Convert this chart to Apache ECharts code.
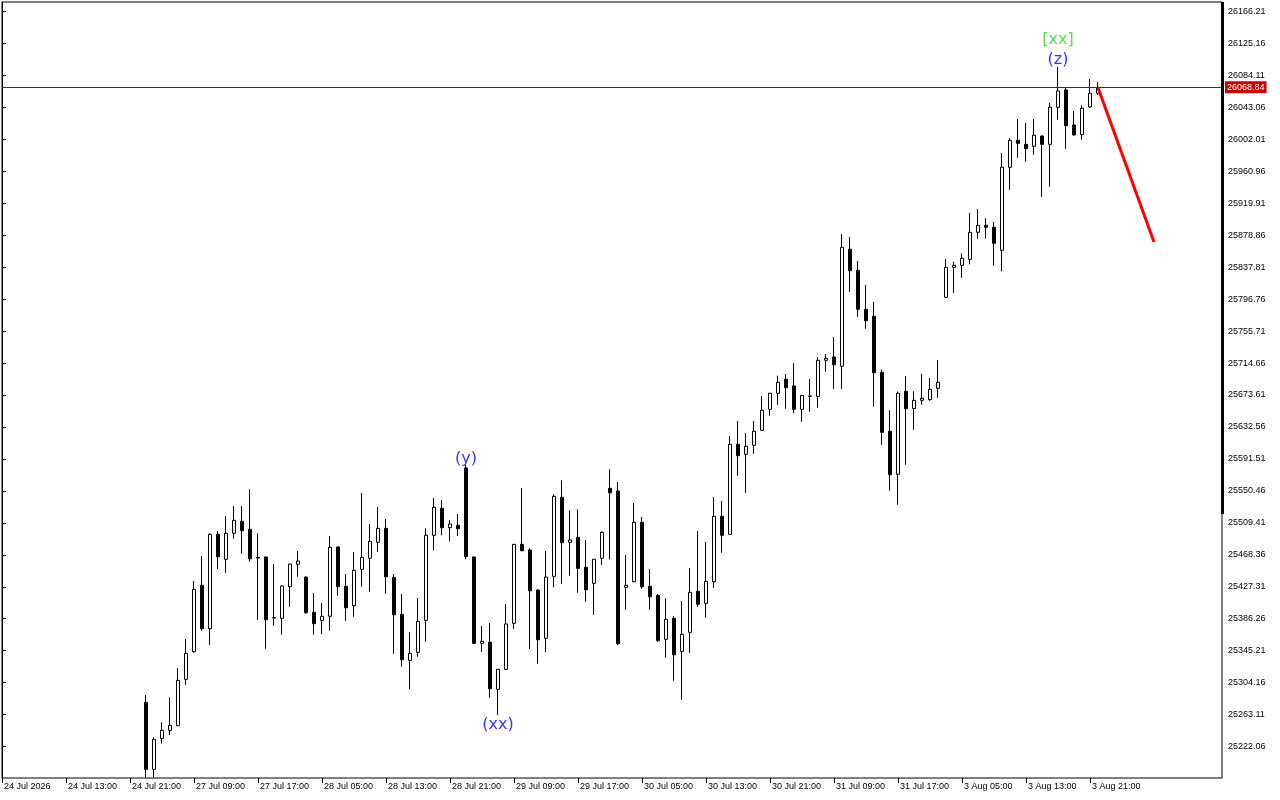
<!DOCTYPE html>
<html>
<head>
<meta charset="utf-8">
<script src="https://cdn.jsdelivr.net/npm/echarts@6/dist/echarts.min.js"></script>
<style>
html,body{margin:0;padding:0;background:#fff;}
#chart{width:1280px;height:800px;}
</style>
</head>
<body>
<div id="chart"></div>
<script>
// Hourly slots: label every 8 slots, first candle sits in slot 18
const timeLabels = ['24 Jul 2026','24 Jul 13:00','24 Jul 21:00','27 Jul 09:00','27 Jul 17:00','28 Jul 05:00','28 Jul 13:00','28 Jul 21:00','29 Jul 09:00','29 Jul 17:00','30 Jul 05:00','30 Jul 13:00','30 Jul 21:00','31 Jul 09:00','31 Jul 17:00','3 Aug 05:00','3 Aug 13:00','3 Aug 21:00'];
const firstCandleSlot = 18;

const opens = [25278.9,25192.8,25232.6,25242.9,25248.8,25308.4,25343.9,25429.2,25373.4,25494.7,
25462.6,25496.0,25511.4,25501.1,25465.1,25465.5,25387.2,25386.8,25427.4,25456.2,
25439.8,25394.5,25384.2,25389.4,25478.4,25427.9,25403.0,25449.7,25463.9,25484.4,
25502.4,25439.4,25391.9,25332.8,25343.1,25384.2,25493.4,25528.1,25503.2,25506.3,
25579.9,25465.5,25354.7,25356.0,25295.6,25321.3,25380.4,25481.8,25474.5,25423.1,
25361.1,25440.7,25542.2,25484.4,25490.8,25452.3,25431.7,25463.9,25553.8,25550.3,
25426.6,25433.8,25510.1,25427.9,25416.3,25359.8,25386.8,25344.4,25368.8,25421.5,
25406.1,25433.8,25517.8,25494.7,25610.3,25597.4,25609.0,25628.3,25655.2,25675.8,
25693.8,25685.2,25655.2,25671.9,25671.9,25718.2,25722.4,25710.5,25860.8,25833.8,
25783.7,25774.7,25702.8,25627.0,25571.8,25678.4,25656.3,25666.8,25667.6,25682.2,
25799.1,25837.6,25840.2,25847.9,25882.6,25891.6,25889.0,25859.5,25966.1,26000.8,
25995.6,25993.1,26006.3,25995.6,26043.2,26065.4,26020.4,26008.0,26043.6,26061.2];
const highs = [25288.3,25233.9,25253.2,25285.3,25322.6,25360.2,25434.7,25466.8,25496.0,25498.9,
25518.2,25531.0,25531.0,25552.5,25496.0,25466.0,25456.5,25429.0,25457.0,25473.2,
25440.5,25419.3,25406.4,25492.5,25479.0,25443.7,25472.0,25547.7,25507.9,25529.8,
25514.3,25443.7,25418.0,25368.8,25412.9,25502.4,25541.3,25538.7,25513.1,25520.8,
25583.7,25466.0,25376.9,25380.8,25321.8,25405.2,25482.3,25554.2,25476.7,25424.0,
25473.2,25546.1,25564.0,25525.5,25526.8,25487.4,25463.0,25498.5,25578.2,25561.9,
25468.1,25534.9,25516.9,25450.1,25418.0,25412.5,25389.7,25409.0,25451.4,25498.9,
25484.8,25542.6,25537.5,25621.0,25640.2,25624.8,25640.2,25672.3,25676.3,25698.4,
25700.6,25714.3,25673.7,25694.2,25722.4,25726.3,25748.1,25880.4,25876.6,25845.7,
25814.9,25793.1,25706.4,25654.0,25678.1,25698.0,25678.4,25700.9,25695.5,25718.6,
25848.3,25844.8,25855.6,25907.4,25912.5,25900.6,25895.8,25984.5,26003.4,26028.1,
26023.0,26028.1,26006.8,26049.1,26094.9,26068.3,26038.4,26045.7,26079.5,26075.7];
const lows = [25182.5,25182.5,25225.7,25236.9,25248.8,25301.5,25342.6,25370.9,25352.9,25450.1,
25445.4,25489.0,25469.8,25459.5,25385.0,25347.7,25377.3,25365.7,25401.7,25440.2,
25392.7,25365.7,25366.6,25370.9,25415.8,25383.7,25388.8,25427.4,25420.9,25472.3,
25418.4,25341.3,25324.6,25295.6,25337.5,25356.7,25474.1,25493.4,25485.7,25492.5,
25462.6,25354.0,25343.9,25284.8,25262.6,25320.8,25373.4,25473.1,25347.4,25328.5,
25343.1,25426.6,25431.2,25441.5,25419.7,25408.1,25391.4,25455.6,25462.3,25352.5,
25397.8,25433.3,25424.8,25397.8,25356.7,25336.2,25306.6,25282.2,25342.6,25401.7,
25387.6,25426.1,25471.1,25494.2,25570.0,25548.1,25598.2,25627.8,25647.0,25661.2,
25656.0,25650.1,25639.3,25652.2,25657.3,25703.5,25681.7,25681.7,25806.3,25774.2,
25758.8,25658.6,25609.8,25550.7,25532.7,25584.1,25629.0,25661.0,25666.3,25670.1,
25798.6,25805.0,25824.3,25841.5,25874.4,25874.4,25839.7,25832.5,25937.3,25978.4,
25973.3,25982.3,25928.3,25941.2,26027.2,25990.0,26007.0,26001.6,26042.3,26059.0];
const closes = [25192.8,25231.4,25242.9,25249.3,25307.1,25341.8,25424.0,25373.4,25494.7,25465.9,
25496.0,25512.7,25499.3,25463.3,25464.2,25385.0,25387.6,25428.3,25456.5,25460.4,
25394.0,25379.9,25389.4,25478.0,25427.4,25400.4,25448.4,25465.1,25485.7,25502.4,
25440.2,25391.4,25333.6,25341.8,25382.9,25493.4,25529.4,25503.2,25507.9,25501.9,
25465.9,25354.7,25357.2,25296.4,25321.3,25379.5,25481.8,25473.6,25422.2,25359.3,
25439.8,25543.5,25483.9,25487.4,25451.0,25423.5,25462.6,25497.3,25548.1,25354.2,
25429.2,25510.1,25427.4,25414.5,25358.0,25385.5,25340.0,25366.2,25420.2,25404.8,
25434.3,25517.8,25493.4,25610.3,25595.7,25607.7,25627.0,25654.0,25675.8,25689.9,
25683.0,25655.2,25673.2,25672.2,25718.2,25720.8,25712.5,25863.3,25833.3,25783.7,
25769.1,25702.3,25625.7,25571.2,25675.9,25656.0,25666.8,25669.4,25680.9,25689.9,
25837.6,25840.2,25849.2,25882.6,25891.6,25889.0,25868.5,25966.1,26000.8,25996.9,
25990.0,26007.2,25995.6,26043.2,26064.1,26019.5,26007.6,26041.9,26061.2,26068.84];

const priceTicks = [26166.21,26125.16,26084.11,26043.06,26002.01,25960.96,25919.91,25878.86,25837.81,25796.76,25755.71,25714.66,25673.61,25632.56,25591.51,25550.46,25509.41,25468.36,25427.31,25386.26,25345.21,25304.16,25263.11,25222.06];
const currentPrice = 26068.84;

// forecast line (red)
const forecastSlots = [137, 144];
const forecastPrices = [26068.3, 25870.1];

// wave labels
const waveTexts  = ['(y)', '(xx)', '(z)', '[xx]'];
const waveSlots  = [58, 62, 132, 132];
const wavePrices = [25591.4, 25249.7, 26103.9, 26129.6];
const waveColors = ['#0000ff', '#0000ff', '#0000ff', '#33cc33'];

const priceMin = 25181.7, priceMax = 26178.4;
const slotMax = 152.5;
const scaleBarFrom = 25520.7;

const candleData = opens.map((o, k) => [firstCandleSlot + k, o, closes[k], lows[k], highs[k]]);
const tickSlots = timeLabels.map((_, k) => k * 8);

const chart = echarts.init(document.getElementById('chart'), null, {renderer: 'canvas'});
const axisFont = {fontFamily: 'Liberation Sans, Arial, sans-serif', fontSize: 9, color: '#000'};

chart.setOption({
  animation: false,
  backgroundColor: '#fff',
  grid: {left: 2, top: 2, right: 58, bottom: 22, show: true, borderColor: '#000', borderWidth: 1, backgroundColor: '#fff'},
  xAxis: {
    type: 'value', min: 0, max: slotMax,
    axisLine: {show: false},
    splitLine: {show: false},
    axisTick: {show: true, customValues: tickSlots, length: 5, lineStyle: {color: '#000'}},
    axisLabel: Object.assign({
      customValues: tickSlots, align: 'left', margin: 4, padding: [0, 0, 0, 2],
      formatter: v => timeLabels[Math.round(v / 8)] || ''
    }, axisFont)
  },
  yAxis: {
    type: 'value', position: 'right', min: priceMin, max: priceMax, scale: true,
    axisLine: {show: true, lineStyle: {color: '#000'}},
    splitLine: {show: false},
    axisTick: {show: true, customValues: priceTicks, length: 4, lineStyle: {color: '#000'}},
    axisLabel: Object.assign({customValues: priceTicks, margin: 6, formatter: v => v.toFixed(2)}, axisFont)
  },
  series: [
    {
      type: 'candlestick',
      data: candleData,
      encode: {x: 0, y: [1, 2, 3, 4]},
      clip: true,
      barWidth: 4,
      itemStyle: {color: '#fff', color0: '#000', borderColor: '#000', borderColor0: '#000', borderWidth: 1},
      markLine: {
        symbol: 'none', silent: true, animation: false,
        data: [
          {yAxis: currentPrice, lineStyle: {color: '#a80000', width: 1, type: 'solid'},
           label: {show: true, position: 'end', distance: 3, formatter: currentPrice.toFixed(2),
                   backgroundColor: '#cc0000', color: '#fff', padding: [2, 2, 1, 2],
                   fontFamily: 'Liberation Sans, Arial, sans-serif', fontSize: 9}},
          [{coord: [slotMax, scaleBarFrom], lineStyle: {color: '#000', width: 3, type: 'solid'}, label: {show: false}},
           {coord: [slotMax, priceMax]}]
        ]
      }
    },
    {
      type: 'line',
      data: forecastSlots.map((s, k) => [s, forecastPrices[k]]),
      symbol: 'none',
      lineStyle: {color: '#ff0000', width: 3},
      z: 5
    },
    {
      type: 'scatter',
      data: waveTexts.map((t, k) => ({value: [waveSlots[k], wavePrices[k]], name: t,
        label: {color: waveColors[k]}})),
      symbolSize: 1,
      itemStyle: {color: 'rgba(0,0,0,0)'},
      label: {show: true, position: 'inside', formatter: p => p.name,
              fontFamily: 'DejaVu Sans, sans-serif', fontSize: 16},
      z: 6
    }
  ]
});
</script>
</body>
</html>
